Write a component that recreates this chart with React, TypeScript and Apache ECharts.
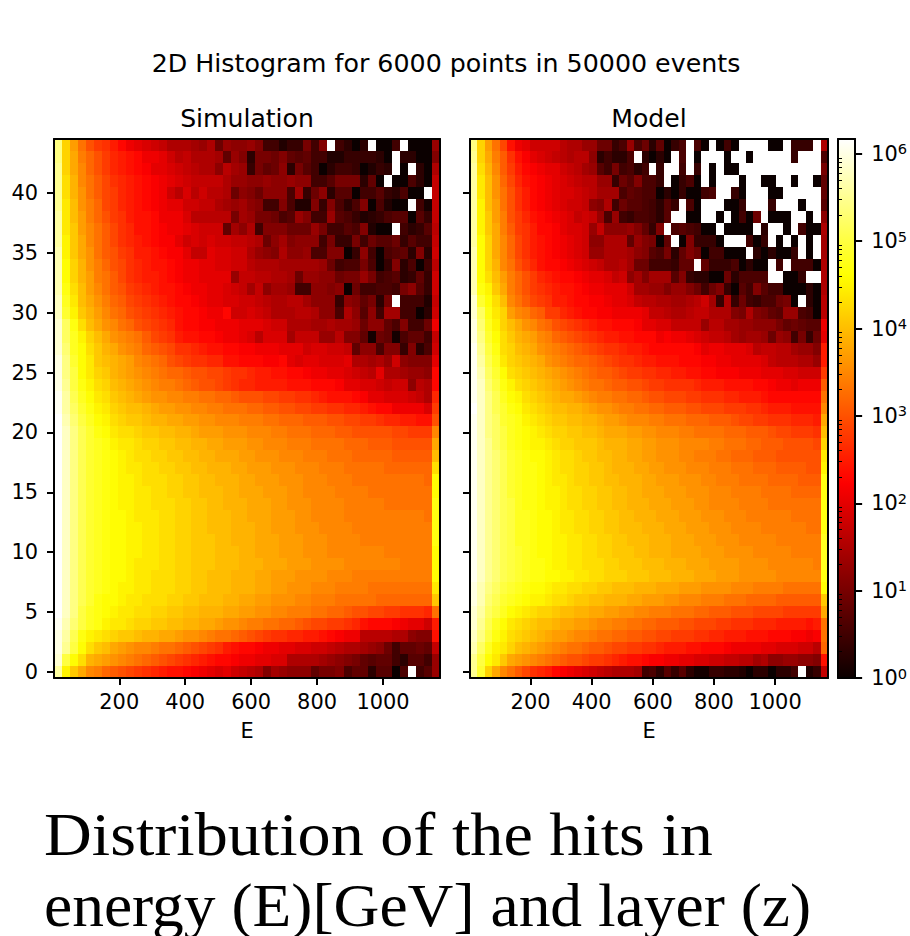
import React, { useEffect, useRef } from "react";
import * as echarts from "echarts";

// Cell values are 10*log10(count); -1 marks an empty (white) bin. First row is layer 44, last is layer 0.
const simulationRows: number[][] = [
[54,42,37,33,30,28,27,25,23,21,20,19, 18,17,15,15,15,14,13,15,9,13,12,12, 13,11,5,5,2,4,4,10,5,11,-1,5, 3,0,3,-1,0,0,5,-1,0,0,0,13],
[54,42,38,34,32,30,28,26,25,24,23,21, 21,20,18,16,17,15,15,15,14,8,13,11, 3,10,10,9,11,8,7,8,5,5,2,2, 4,4,4,4,3,0,-1,3,3,0,0,11],
[55,42,38,35,32,30,28,26,25,24,23,22, 20,20,19,18,17,16,15,15,12,16,14,13, 4,10,8,9,12,3,10,7,5,0,3,5, 5,4,0,2,4,3,-1,0,-1,3,0,15],
[55,43,39,35,33,31,29,27,26,25,24,23, 22,21,20,19,18,17,17,17,17,15,13,13, 12,12,13,12,12,13,12,12,5,5,7,10, 10,10,3,8,0,-1,0,0,6,3,0,17],
[55,43,39,36,33,31,29,28,26,25,24,23, 22,21,18,16,19,16,18,16,16,15,9,12, 11,9,12,12,12,6,14,4,9,12,3,7, 7,0,5,5,7,4,3,6,0,0,-1,17],
[55,44,40,36,34,32,29,28,26,25,24,23, 22,21,20,20,18,18,17,17,15,14,13,14, 12,11,5,5,11,6,2,2,11,4,11,6, 3,6,11,0,6,2,0,0,-1,5,1,17],
[56,44,40,37,34,32,30,28,27,25,24,24, 23,21,21,21,19,16,16,16,16,16,10,14, 13,10,10,9,6,7,13,11,5,5,13,7, 6,4,2,3,4,6,7,7,0,7,4,17],
[56,44,41,37,35,33,31,29,27,26,24,24, 23,22,21,21,20,19,18,18,18,8,14,12, 15,5,11,11,11,9,9,9,13,10,5,5, 7,6,11,2,0,0,-1,5,3,4,7,16],
[56,45,41,38,35,33,31,29,27,26,25,24, 23,22,22,20,18,19,18,19,18,18,17,17, 16,15,9,12,14,11,12,12,12,5,10,4, 4,10,5,9,7,7,9,4,7,5,5,17],
[57,45,41,38,36,33,31,30,28,27,25,25, 24,23,22,22,20,17,17,20,19,19,18,18, 15,13,12,11,15,12,12,13,6,6,11,11, 0,4,12,5,0,6,7,8,3,11,3,18],
[57,46,42,39,36,34,32,30,29,27,26,25, 24,24,23,22,21,21,20,20,19,19,18,18, 16,15,15,15,14,14,14,14,14,13,9,5, 6,6,10,6,0,4,11,3,6,0,5,16],
[57,46,42,39,37,34,33,31,29,27,26,25, 25,24,23,22,21,21,20,20,20,20,13,17, 17,16,16,15,15,14,9,13,13,12,12,9, 10,10,13,10,5,6,7,3,4,8,4,18],
[57,47,43,40,37,35,33,31,30,28,27,26, 25,24,24,23,22,21,21,20,20,19,18,17, 14,17,12,14,14,13,5,5,12,12,11,12, 0,9,5,5,6,6,5,10,12,7,4,18],
[58,48,44,40,38,36,34,32,31,29,28,27, 26,25,24,23,23,22,21,20,20,19,19,18, 18,17,16,15,15,16,16,14,12,12,12,4, 12,11,8,10,3,10,-1,5,5,5,2,17],
[58,49,45,41,39,37,35,33,32,30,29,28, 27,26,25,24,23,23,22,21,21,23,18,18, 19,18,17,15,15,15,16,16,15,12,12,6, 15,12,7,12,5,14,14,5,5,0,3,18],
[59,52,47,43,40,38,36,35,33,32,30,29, 28,27,26,24,23,23,22,22,21,21,21,20, 20,20,19,18,18,15,15,15,14,14,15,14, 14,13,9,12,12,8,6,11,5,5,9,21],
[59,52,48,45,42,40,38,36,35,34,33,31, 29,28,27,25,24,24,23,23,22,21,21,20, 19,16,19,19,19,14,17,17,17,13,13,16, 11,11,8,1,9,8,1,6,8,8,5,17],
[59,53,48,46,43,41,39,38,36,35,34,32, 31,30,29,27,27,26,25,24,24,23,23,22, 22,21,21,21,20,20,20,18,19,19,18,18, 17,8,12,12,6,11,11,4,11,3,6,18],
[60,54,49,46,44,41,40,39,38,37,35,34, 33,32,30,29,28,27,27,26,26,24,24,23, 23,23,22,22,23,20,19,20,20,19,19,19, 20,15,15,14,15,13,18,12,11,11,11,20],
[60,54,50,46,44,42,41,39,38,37,36,35, 34,33,32,32,31,30,30,29,29,28,27,27, 26,25,25,24,24,23,23,22,21,21,20,20, 19,18,17,16,20,15,15,14,13,13,12,23],
[60,55,50,47,45,43,42,40,39,38,37,36, 35,34,34,33,32,31,30,30,29,28,27,26, 26,25,25,25,25,24,24,24,23,23,23,22, 20,20,19,19,18,17,18,18,12,16,15,23],
[61,56,51,48,46,44,43,41,40,39,38,37, 36,36,35,35,34,34,33,33,32,32,31,30, 30,30,29,29,28,28,27,27,26,25,24,24, 24,23,22,20,20,19,19,19,18,17,15,26],
[61,56,52,49,47,45,44,42,41,40,40,39, 38,37,37,36,36,35,35,34,34,33,33,33, 32,32,31,31,30,30,29,29,28,28,27,27, 26,26,25,24,23,23,21,21,21,21,19,28],
[62,57,53,50,48,46,45,43,42,41,41,40, 39,39,38,38,37,37,36,36,35,35,35,34, 34,34,33,33,32,32,32,31,31,31,30,30, 29,29,28,28,27,26,26,25,25,24,24,30],
[62,58,54,51,49,47,46,44,43,43,42,41, 41,40,40,39,39,38,37,37,37,36,36,36, 35,35,35,34,34,33,33,33,32,32,32,31, 31,30,30,30,30,30,29,29,28,28,28,35],
[62,58,54,51,49,48,47,45,44,44,43,42, 42,41,41,40,40,39,39,38,38,37,37,37, 36,36,35,35,35,34,34,34,33,33,33,33, 32,32,32,31,31,31,30,30,30,30,30,38],
[62,58,54,51,49,48,47,46,45,44,43,43, 42,42,41,41,40,40,39,39,38,38,38,37, 37,36,36,36,35,35,35,34,34,34,33,33, 33,32,32,32,32,32,31,31,31,31,31,40],
[62,58,54,51,49,48,47,46,45,44,44,43, 43,42,42,41,41,40,40,39,39,39,38,38, 37,37,37,36,36,36,35,35,35,34,34,34, 33,33,33,33,33,32,32,32,32,32,32,43],
[62,58,54,51,49,48,47,46,45,45,44,43, 43,43,42,42,41,41,40,40,39,39,39,38, 38,37,37,37,36,36,36,35,35,35,34,34, 34,33,33,33,33,33,33,33,33,33,32,46],
[62,58,54,51,49,48,47,46,45,45,44,44, 43,43,42,42,41,41,40,40,40,39,39,38, 38,38,37,37,37,36,36,35,35,35,35,34, 34,34,34,33,33,33,33,33,33,33,33,46],
[62,58,54,51,49,48,47,46,45,45,44,44, 43,43,43,42,42,41,41,40,40,39,39,39, 38,38,38,37,37,36,36,36,35,35,35,35, 34,34,34,34,34,33,33,33,33,33,33,47],
[62,58,54,51,49,48,47,46,46,45,44,44, 44,43,43,42,42,41,41,40,40,40,39,39, 38,38,38,37,37,37,36,36,35,35,35,35, 34,34,34,34,34,34,34,34,34,34,33,47],
[62,58,54,51,49,48,47,46,46,45,45,44, 44,43,43,42,42,41,41,40,40,40,39,39, 39,38,38,37,37,37,36,36,36,35,35,35, 35,34,34,34,34,34,34,34,34,34,34,47],
[62,58,54,51,49,48,47,46,46,45,45,44, 44,43,43,42,42,41,41,41,40,40,39,39, 39,38,38,38,37,37,37,36,36,36,35,35, 35,35,34,34,34,34,34,34,34,34,34,47],
[62,58,54,51,49,48,47,46,46,45,45,44, 44,43,43,42,42,41,41,41,40,40,40,39, 39,38,38,38,37,37,37,36,36,36,35,35, 35,35,35,35,35,34,34,34,34,34,34,46],
[62,58,54,51,49,48,47,46,46,45,44,44, 44,43,43,42,42,41,41,41,40,40,40,39, 39,39,38,38,38,37,37,37,36,36,36,36, 35,35,35,35,35,35,35,34,34,34,34,46],
[62,58,54,51,49,48,47,46,46,45,44,44, 43,43,43,42,42,41,41,40,40,40,39,39, 39,38,38,37,37,37,36,36,36,36,35,35, 35,34,34,34,34,34,34,34,34,34,34,46],
[62,58,54,51,49,48,47,46,45,45,44,44, 43,43,43,42,42,41,41,40,40,40,39,39, 39,38,38,37,37,36,36,36,35,35,35,34, 34,34,34,33,33,33,33,33,33,33,33,44],
[62,58,54,51,49,47,46,46,45,44,44,43, 43,43,42,42,41,41,40,40,40,39,39,38, 38,37,37,36,36,36,35,35,34,34,34,33, 33,33,33,33,32,32,32,32,32,32,32,41],
[62,58,54,50,48,47,46,45,44,44,43,43, 42,42,41,41,40,40,39,39,39,38,38,37, 37,36,36,35,35,34,34,34,33,33,32,32, 31,30,30,29,29,28,28,27,27,27,26,33],
[61,57,53,50,48,47,45,44,44,43,42,42, 41,41,40,40,39,39,38,38,37,36,36,35, 34,34,33,33,32,32,31,30,29,29,28,28, 27,26,24,23,23,23,22,21,20,20,18,25],
[60,56,51,47,45,44,43,42,41,41,40,39, 39,38,38,37,36,36,35,34,33,33,32,31, 30,29,28,27,27,26,26,25,25,24,23,22, 21,21,16,16,16,16,15,15,12,11,11,24],
[60,55,50,46,43,41,40,38,37,36,35,35, 34,33,33,32,31,30,29,28,27,25,24,23, 23,22,21,21,20,20,19,19,18,18,17,16, 15,15,14,13,12,9,5,8,8,9,8,17],
[59,50,46,43,39,38,37,36,35,34,33,32, 31,30,29,28,27,26,25,24,23,23,22,21, 21,20,20,19,19,15,15,15,15,14,13,12, 11,10,8,7,8,8,5,3,7,7,5,13],
[56,45,41,38,35,34,32,31,30,29,28,27, 26,25,24,24,23,22,21,20,19,20,18,17, 16,15,11,14,13,12,12,12,8,10,10,11, 6,8,8,3,7,7,0,6,-1,5,7,13],
];

const modelRows: number[][] = [
[54,42,37,33,29,24,21,20,18,18,18,18, 16,15,15,13,13,9,9,4,6,13,6,9, 3,8,0,4,6,-1,6,0,-1,0,5,0, -1,-1,-1,-1,0,0,-1,4,4,4,-1,15],
[55,42,38,34,31,27,24,22,20,19,18,17, 16,15,16,16,12,3,5,3,3,6,-1,3, 0,3,0,-1,6,-1,0,-1,-1,-1,0,-1, -1,0,-1,-1,-1,-1,-1,4,-1,-1,-1,6],
[56,43,39,35,31,28,25,23,22,21,20,20, 18,17,16,14,13,7,5,10,5,6,3,5, -1,4,-1,-1,5,-1,4,-1,0,-1,0,0, -1,-1,-1,-1,-1,-1,-1,-1,-1,-1,-1,10],
[56,44,40,36,32,29,26,24,23,22,21,20, 19,18,17,16,16,13,13,4,9,7,11,6, 6,4,-1,0,4,6,0,-1,0,-1,-1,-1, 0,-1,-1,0,0,-1,-1,0,-1,-1,0,8],
[56,44,40,36,33,30,27,25,23,22,21,20, 19,19,18,17,16,14,14,14,6,8,7,6, 6,0,3,0,4,0,0,5,6,-1,-1,4, 0,-1,-1,-1,0,0,-1,-1,-1,-1,-1,8],
[56,45,40,37,33,30,27,25,23,22,21,20, 19,18,18,17,12,11,15,5,9,7,7,6, 5,3,7,4,-1,6,0,-1,-1,-1,0,0, 4,-1,-1,-1,4,-1,-1,-1,0,-1,-1,7],
[56,45,41,37,34,30,28,26,24,23,22,21, 20,19,17,18,17,13,6,13,5,4,6,6, 5,3,7,-1,-1,0,0,-1,-1,0,-1,0, 5,0,9,-1,0,0,0,-1,-1,0,-1,12],
[56,45,41,38,34,31,28,27,25,23,23,22, 20,19,19,18,13,17,12,12,12,13,11,8, 4,11,-1,6,7,6,5,0,0,-1,0,0, 0,0,-1,3,-1,-1,0,-1,5,0,0,15],
[56,46,42,38,35,32,29,27,25,24,23,22, 21,20,19,18,12,12,15,15,15,8,13,11, 10,0,8,-1,0,11,4,4,4,0,-1,-1, -1,5,0,4,-1,0,-1,0,-1,0,-1,14],
[57,46,42,38,35,32,29,27,25,24,23,22, 21,20,19,18,13,13,15,15,15,14,12,11, 7,6,10,3,8,11,9,0,5,5,0,0, 0,-1,3,0,3,0,0,4,-1,0,-1,14],
[57,46,42,39,35,33,30,28,26,24,23,23, 22,21,20,19,18,17,15,15,16,14,9,9, 5,5,5,4,8,8,-1,8,4,4,4,6, 0,3,0,0,-1,5,-1,5,5,5,0,15],
[57,46,43,40,37,34,32,30,28,26,25,24, 23,23,22,21,20,20,19,17,18,12,14,11, 14,14,14,7,11,4,3,3,0,0,9,3, 6,6,6,6,-1,-1,0,0,4,-1,-1,15],
[57,47,45,41,38,34,32,30,28,27,26,25, 24,24,23,22,21,21,20,20,20,18,14,14, 13,13,11,13,13,11,9,5,9,11,4,0, 7,5,11,7,5,5,0,0,0,3,0,15],
[59,49,46,43,40,35,33,31,29,28,27,25, 25,24,23,23,22,22,21,20,20,19,17,16, 16,15,15,14,14,15,16,18,14,4,15,4, 9,5,4,6,6,9,10,0,-1,3,0,16],
[59,52,47,44,42,37,35,34,32,31,28,28, 26,25,24,23,23,22,22,21,21,21,21,20, 17,17,16,15,15,16,17,17,15,15,15,11, 10,15,11,10,8,7,13,13,6,5,0,16],
[60,53,48,45,42,40,38,36,35,33,32,30, 29,28,27,26,25,24,24,23,23,23,22,20, 20,19,19,17,17,17,17,13,16,16,14,14, 13,13,12,12,12,10,8,9,8,7,7,21],
[60,54,49,46,43,41,39,38,37,35,34,32, 31,30,29,28,27,26,25,25,24,24,23,23, 23,21,22,21,21,20,19,18,17,17,16,14, 13,14,14,13,9,13,12,5,10,4,9,20],
[61,55,50,47,43,42,40,39,38,36,35,34, 33,32,31,30,29,28,27,27,26,25,25,24, 23,23,23,23,23,23,22,20,21,21,20,20, 20,19,16,17,17,16,16,14,13,13,11,25],
[61,56,51,48,44,42,41,40,39,38,36,35, 34,33,32,32,31,30,29,28,27,27,26,25, 25,24,24,24,23,23,23,22,22,21,21,20, 20,20,20,19,17,16,16,16,15,15,13,25],
[61,57,52,49,46,43,42,41,40,39,38,37, 36,35,34,33,32,31,31,30,29,28,28,27, 27,26,26,25,25,24,24,23,23,22,22,22, 21,21,21,20,20,20,19,19,18,18,18,28],
[61,58,53,50,47,45,43,42,41,40,39,38, 37,36,35,34,33,33,32,31,31,30,30,29, 28,28,27,27,27,27,26,25,25,25,24,24, 24,24,23,23,22,21,21,20,21,21,21,31],
[61,58,54,51,48,46,45,43,42,41,40,39, 38,38,37,36,35,34,34,33,33,32,32,31, 30,30,29,29,29,28,28,27,27,27,26,26, 25,25,25,24,23,23,23,23,23,23,23,33],
[62,58,54,51,49,47,46,44,43,42,41,40, 40,39,39,38,37,36,36,35,34,34,33,33, 32,32,31,31,31,30,30,29,29,29,28,28, 28,27,27,26,25,25,25,24,24,24,24,35],
[61,58,54,52,49,48,47,45,44,43,42,41, 41,40,40,39,39,38,37,37,36,35,35,35, 34,34,33,33,33,32,32,32,31,31,31,30, 29,29,28,28,27,27,27,26,26,26,25,38],
[61,58,54,52,50,48,47,46,45,44,43,42, 42,41,41,40,40,39,38,38,38,37,37,36, 36,35,35,35,34,34,33,33,33,33,32,32, 32,31,31,31,30,29,29,28,28,28,27,40],
[61,58,55,52,50,48,47,46,45,45,44,43, 42,42,41,41,41,40,39,39,39,38,38,37, 37,36,36,36,35,35,35,35,34,34,33,33, 33,32,32,31,31,31,30,30,30,30,29,42],
[61,58,55,53,51,49,48,47,46,46,45,44, 43,43,42,41,41,40,40,39,39,38,38,37, 37,36,36,36,35,35,34,34,34,33,33,32, 32,32,31,31,31,30,30,30,30,30,30,44],
[61,58,55,53,51,49,48,47,47,46,45,44, 43,43,42,42,41,41,40,39,39,39,38,38, 37,37,36,36,36,35,35,35,34,34,34,33, 33,33,32,32,32,31,31,31,31,30,30,45],
[61,58,55,53,51,49,48,47,47,46,45,44, 44,43,42,42,41,41,40,40,39,39,39,38, 38,37,37,37,36,36,36,35,35,34,34,34, 33,33,33,33,32,32,32,32,31,31,31,47],
[61,58,55,53,51,49,48,47,47,46,45,45, 44,43,43,42,42,41,41,40,40,39,39,38, 38,38,37,37,37,36,36,36,35,35,35,34, 34,34,34,33,33,33,33,32,32,32,32,47],
[61,58,55,53,51,50,48,47,47,46,45,45, 44,43,43,42,42,41,41,40,40,39,39,39, 38,38,38,37,37,37,36,36,35,35,35,35, 34,34,34,34,33,33,33,33,33,33,33,47],
[61,58,55,53,51,50,48,48,47,46,46,45, 44,44,43,43,42,42,41,41,40,40,39,39, 39,38,38,38,37,37,37,36,36,36,35,35, 35,34,34,34,34,34,34,33,33,33,33,47],
[61,58,55,53,51,50,48,48,47,46,46,45, 44,44,43,43,42,42,41,41,40,40,40,39, 39,39,38,38,38,37,37,37,36,36,36,35, 35,35,35,34,34,34,34,34,34,33,33,47],
[61,58,55,53,51,50,48,48,47,46,46,45, 45,44,44,43,43,42,42,41,41,40,40,40, 39,39,39,38,38,38,37,37,37,36,36,36, 35,35,35,35,35,34,34,34,34,34,34,48],
[61,58,55,53,51,50,49,48,47,46,46,45, 45,44,44,43,43,42,42,41,41,41,40,40, 39,39,39,38,38,38,38,37,37,37,36,36, 36,36,35,35,35,35,35,34,34,34,34,48],
[61,58,55,53,51,50,49,48,47,47,46,45, 45,44,44,43,43,43,42,42,41,41,41,40, 40,40,39,39,39,38,38,38,37,37,37,37, 36,36,36,36,35,35,35,35,35,35,34,48],
[61,58,55,53,51,50,49,48,47,47,46,46, 45,45,44,44,43,43,42,42,42,41,41,41, 40,40,40,39,39,39,38,38,38,37,37,37, 36,36,36,36,36,35,35,35,35,35,35,47],
[60,57,54,52,50,49,48,47,46,46,45,44, 44,43,43,42,42,41,41,40,40,40,39,39, 39,38,38,38,37,37,37,36,36,36,36,35, 35,35,34,34,34,34,33,33,33,33,33,46],
[60,57,53,51,49,48,47,46,45,45,44,43, 43,42,41,41,40,40,39,39,39,38,38,37, 37,37,36,36,35,35,35,34,34,34,33,33, 33,32,32,32,32,31,31,31,31,31,31,41],
[59,56,52,50,48,46,45,44,43,42,42,41, 40,40,39,39,38,38,37,37,36,36,35,35, 34,34,34,33,33,33,32,32,31,31,31,30, 30,30,29,29,29,29,28,28,28,28,28,38],
[59,55,51,48,46,44,43,42,41,40,40,39, 38,38,37,37,36,35,35,34,34,33,33,32, 32,31,31,31,30,30,29,29,29,28,28,27, 27,27,26,26,26,25,25,25,25,24,25,33],
[58,54,50,47,45,43,42,41,40,39,38,37, 37,36,35,35,34,33,33,32,32,31,31,30, 30,29,29,28,28,28,27,27,26,26,25,25, 25,24,24,24,23,23,23,22,22,21,22,33],
[57,52,48,45,44,42,40,39,38,37,36,35, 34,33,33,32,31,31,30,29,29,28,28,27, 27,26,25,25,25,24,24,23,23,23,22,21, 21,21,21,20,20,19,19,19,18,18,16,32],
[55,50,46,44,41,38,37,36,35,34,33,32, 31,30,30,29,28,28,27,26,25,24,24,23, 22,22,21,21,20,20,19,19,18,18,17,17, 16,16,14,15,12,12,13,13,12,12,11,24],
[55,49,42,38,35,33,31,29,27,26,25,23, 22,21,20,19,18,17,16,15,15,15,14,5, 6,3,7,4,7,3,1,1,4,4,3,3, 2,0,3,3,0,3,3,5,-1,2,4,17],
];

const energyTicks = [200, 400, 600, 800, 1000];
const layerTicks = [0, 5, 10, 15, 20, 25, 30, 35, 40];
const decadeTicks = [0, 1, 2, 3, 4, 5, 6];
const mantissas = [2, 3, 4, 5, 6, 7, 8, 9];

const E_MIN = 2;
const E_MAX = 1173;
const BIN = (E_MAX - E_MIN) / 48;
const LOG_MAX = 6.17;
const FONT = "DejaVu Sans";
const TICK = 20.9;

function hot(t: number): string {
  const r = Math.min(1, 0.0416 + t * 2.6289);
  const g = Math.max(0, Math.min(1, (t - 0.365) / 0.381));
  const b = Math.max(0, Math.min(1, (t - 0.746) / 0.254));
  return `rgb(${Math.round(r * 255)},${Math.round(g * 255)},${Math.round(b * 255)})`;
}

function cells(rows: number[][]): number[][] {
  const out: number[][] = [];
  rows.forEach((row, r) => {
    row.forEach((code, c) => {
      if (code >= 0) out.push([E_MIN + (c + 0.5) * BIN, rows.length - 1 - r, code / 10]);
    });
  });
  return out;
}

const snap = (v: number) => Math.round(Math.round(v * 1000) / 1000);

const renderCell = (_: any, api: any) => {
  const x = api.value(0);
  const y = api.value(1);
  const a = api.coord([x - BIN / 2, y + 0.5]);
  const b = api.coord([x + BIN / 2, y - 0.5]);
  const x0 = snap(a[0]);
  const y0 = snap(a[1]);
  return {
    type: "rect",
    shape: { x: x0, y: y0, width: snap(b[0]) - x0, height: snap(b[1]) - y0 },
    style: { fill: api.visual("color") },
  };
};

const lineStyle = { color: "#000", width: 2 };

function panelAxes(grid: number, showY: boolean) {
  const xAxis = [
    {
      type: "value", gridIndex: grid, min: E_MIN, max: E_MAX, position: "bottom", z: 5,
      splitLine: { show: false },
      axisLine: { onZero: false, lineStyle },
      axisTick: { customValues: energyTicks, length: 7, lineStyle },
      axisLabel: {
        customValues: energyTicks, margin: 13, fontFamily: FONT, fontSize: TICK, color: "#000",
        formatter: (v: number) => String(v),
      },
      name: "E", nameLocation: "middle", nameGap: 42,
      nameTextStyle: { fontFamily: FONT, fontSize: TICK, color: "#000" },
    },
    {
      type: "value", gridIndex: grid, min: E_MIN, max: E_MAX, position: "top", z: 5,
      splitLine: { show: false }, axisTick: { show: false }, axisLabel: { show: false },
      axisLine: { onZero: false, lineStyle },
    },
  ];
  const yAxis = [
    {
      type: "value", gridIndex: grid, min: -0.5, max: 44.5, position: "left", z: 5,
      splitLine: { show: false },
      axisLine: { onZero: false, lineStyle },
      axisTick: { customValues: layerTicks, length: 7, lineStyle },
      axisLabel: {
        show: showY, customValues: layerTicks, margin: 16, padding: [3, 0, 0, 0],
        fontFamily: FONT, fontSize: TICK, color: "#000",
      },
    },
    {
      type: "value", gridIndex: grid, min: -0.5, max: 44.5, position: "right", z: 5,
      splitLine: { show: false }, axisTick: { show: false }, axisLabel: { show: false },
      axisLine: { onZero: false, lineStyle },
    },
  ];
  return { xAxis, yAxis };
}

export default function App() {
  const ref = useRef<HTMLDivElement>(null);
  useEffect(() => {
    const chart = echarts.init(ref.current!, undefined, { renderer: "svg" });
    const left = panelAxes(0, true);
    const right = panelAxes(1, false);
    const minorTicks = decadeTicks.flatMap((d) =>
      mantissas.map((m) => d + Math.log10(m)).filter((v) => v < LOG_MAX)
    );
    const stops = Array.from({ length: 65 }, (_, i) => hot(i / 64));
    const cbX = [
      { position: "bottom" },
      { position: "top" },
    ].map((p) => ({
      type: "value", gridIndex: 2, min: 0, max: 1, position: p.position, z: 6,
      splitLine: { show: false }, axisTick: { show: false }, axisLabel: { show: false },
      axisLine: { onZero: false, lineStyle },
    }));
    const cbY = [
      {
        type: "value", gridIndex: 2, min: 0, max: LOG_MAX, position: "right", z: 6,
        splitLine: { show: false },
        axisLine: { onZero: false, lineStyle },
        axisTick: { customValues: decadeTicks, length: 7, lineStyle },
        axisLabel: {
          customValues: decadeTicks, margin: 16,
          formatter: (v: number) => `{a|10}{b|${v}}`,
          rich: {
            a: { fontFamily: FONT, fontSize: TICK, color: "#000" },
            b: { fontFamily: FONT, fontSize: 14.6, color: "#000", padding: [0, 0, 10, 0] },
          },
        },
      },
      {
        type: "value", gridIndex: 2, min: 0, max: LOG_MAX, position: "right", z: 6,
        splitLine: { show: false }, axisLabel: { show: false },
        axisLine: { show: false },
        axisTick: { customValues: minorTicks, length: 4, lineStyle: { color: "#000", width: 1 } },
      },
      {
        type: "value", gridIndex: 2, min: 0, max: LOG_MAX, position: "left", z: 6,
        splitLine: { show: false }, axisTick: { show: false }, axisLabel: { show: false },
        axisLine: { onZero: false, lineStyle },
      },
    ];
    const text = (t: string, x: number, y: number, size: number, family = FONT, align = "center", scaleX = 1) => ({
      type: "text", x, y, scaleX, silent: true,
      style: { text: t, fontFamily: family, fontSize: size, fill: "#000", textAlign: align, textVerticalAlign: "middle" },
    });
    chart.setOption({
      animation: false,
      backgroundColor: "#fff",
      grid: [
        { left: 54, top: 139, width: 386, height: 539 },
        { left: 470, top: 139, width: 358, height: 539 },
        { left: 838, top: 139, width: 18, height: 539 },
      ],
      xAxis: [...left.xAxis, ...right.xAxis, ...cbX],
      yAxis: [...left.yAxis, ...right.yAxis, ...cbY],
      visualMap: {
        type: "continuous", seriesIndex: [0, 1], dimension: 2, min: 0, max: LOG_MAX,
        left: 838, top: 139, itemWidth: 18, itemHeight: 539, padding: 0,
        calculable: false, hoverLink: false, text: ["", ""],
        inRange: { color: stops },
      },
      series: [
        { type: "custom", xAxisIndex: 0, yAxisIndex: 0, z: 1, silent: true, encode: { x: 0, y: 1 }, renderItem: renderCell, data: cells(simulationRows) },
        { type: "custom", xAxisIndex: 2, yAxisIndex: 2, z: 1, silent: true, encode: { x: 0, y: 1 }, renderItem: renderCell, data: cells(modelRows) },
      ],
      graphic: [
        text("2D Histogram for 6000 points in 50000 events", 446, 63, 25.3),
        text("Simulation", 247, 118, 25.1),
        text("Model", 649, 118, 25.1),
        text("Distribution of the hits in", 44, 834, 62, "Liberation Serif", "left", 1.067),
        text("energy (E)[GeV] and layer (z)", 44, 905, 62, "Liberation Serif", "left", 1.024),
      ],
    });
    return () => chart.dispose();
  }, []);
  return <div ref={ref} style={{ position: "absolute", left: 0, top: 0, width: 910, height: 936 }} />;
}
